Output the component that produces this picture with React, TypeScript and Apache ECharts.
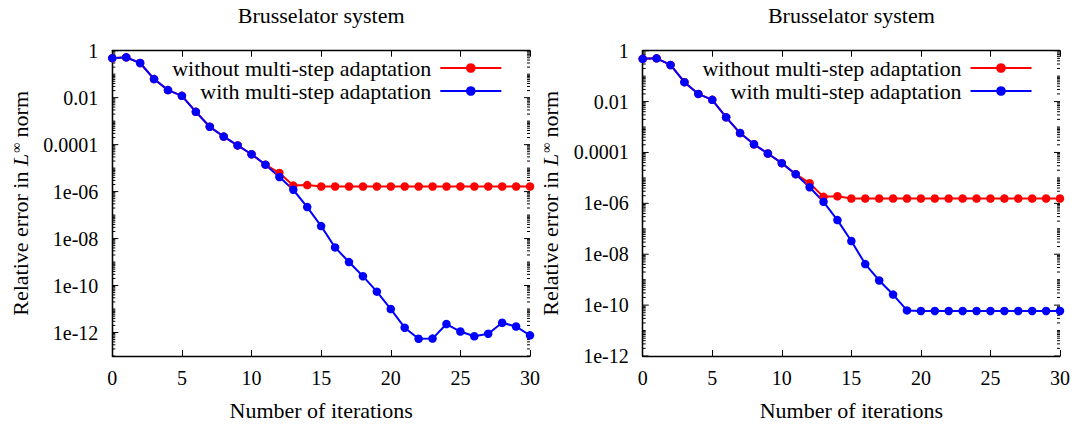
import React, { useEffect, useRef } from "react";
import * as echarts from "echarts";

const iterations = [0, 1, 2, 3, 4, 5, 6, 7, 8, 9, 10, 11, 12, 13, 14, 15, 16, 17, 18, 19, 20, 21, 22, 23, 24, 25, 26, 27, 28, 29, 30];

const leftWithout = [0.48, 0.52, 0.3, 0.062, 0.021, 0.012, 0.0025, 5.8e-4, 2.2e-4, 9.3e-5, 3.9e-5, 1.4e-5, 6.2e-6, 1.8e-6, 1.9e-6,
  1.65e-6, 1.65e-6, 1.65e-6, 1.65e-6, 1.65e-6, 1.65e-6, 1.65e-6, 1.65e-6, 1.65e-6, 1.65e-6, 1.65e-6, 1.65e-6, 1.65e-6, 1.65e-6, 1.65e-6, 1.65e-6];
const leftWith = [0.48, 0.52, 0.3, 0.062, 0.021, 0.012, 0.0025, 5.8e-4, 2.2e-4, 9.3e-5, 3.9e-5, 1.4e-5, 4.2e-6, 1.2e-6, 2.2e-7,
  3.4e-8, 4.2e-9, 1.0e-9, 2.5e-10, 5.5e-11, 1.0e-11, 1.6e-12, 5.4e-13, 5.5e-13, 2.3e-12, 1.1e-12, 6.9e-13, 8.9e-13, 2.6e-12, 1.8e-12, 7.6e-13];

const rightWithout = [0.48, 0.5, 0.275, 0.058, 0.02, 0.0117, 0.0024, 5.8e-4, 2.1e-4, 9.1e-5, 3.8e-5, 1.4e-5, 6.2e-6, 1.8e-6, 1.9e-6,
  1.55e-6, 1.55e-6, 1.55e-6, 1.55e-6, 1.55e-6, 1.55e-6, 1.55e-6, 1.55e-6, 1.55e-6, 1.55e-6, 1.55e-6, 1.55e-6, 1.55e-6, 1.55e-6, 1.55e-6, 1.55e-6];
const rightWith = [0.48, 0.5, 0.275, 0.058, 0.02, 0.0117, 0.0024, 5.8e-4, 2.1e-4, 9.1e-5, 3.8e-5, 1.4e-5, 4.3e-6, 1.15e-6, 2.2e-7,
  3.3e-8, 4.1e-9, 9.3e-10, 2.6e-10, 6.2e-11, 5.9e-11, 5.9e-11, 5.9e-11, 5.9e-11, 5.9e-11, 5.9e-11, 5.9e-11, 5.9e-11, 5.9e-11, 5.9e-11, 5.9e-11];

const seriesNames = ["without multi-step adaptation", "with multi-step adaptation"];
const titleText = "Brusselator system";
const xAxisName = "Number of iterations";
const yTickLabels: Record<string, string> = {
  "0": "1", "-2": "0.01", "-4": "0.0001", "-6": "1e-06", "-8": "1e-08", "-10": "1e-10", "-12": "1e-12",
};

const FONT = "Liberation Serif, DejaVu Serif, serif";
const TEXT_SIZE = 22;
const LEGEND_SIZE = 22;
const NUM_SIZE = 20;

function logTicks(minExp: number, maxExp: number) {
  const out: number[][] = [];
  for (let e = minExp; e <= maxExp; e++) {
    for (let m = 1; m <= 9; m++) {
      if (e === maxExp && m > 1) break;
      const v = m * Math.pow(10, e);
      const major = m === 1 && e % 2 === 0 ? 1 : 0;
      out.push([0, v, major]);
    }
  }
  return out;
}

export default function App() {
  const ref = useRef<HTMLDivElement>(null);
  useEffect(() => {
    if (!ref.current) return;
    const chart = echarts.init(ref.current, undefined, { renderer: "svg" });

    const grids = [
      { left: 112.3, top: 50.7, width: 417.7, height: 307 },
      { left: 642.7, top: 50.7, width: 417.3, height: 307 },
    ];
    const yMins = [1e-13, 1e-12];
    const yMinExp = [-13, -12];

    const xAxes: any[] = [];
    const yAxes: any[] = [];
    grids.forEach((g, i) => {
      xAxes.push({
        type: "value", gridIndex: i, min: 0, max: 30, interval: 5, position: "bottom",
        axisLine: { show: true, lineStyle: { color: "#000", width: 1.3 } },
        axisTick: { show: true, inside: true, length: 6, lineStyle: { color: "#000", width: 1 } },
        axisLabel: { margin: 12, color: "#000", fontSize: NUM_SIZE, fontFamily: FONT },
        splitLine: { show: false },
        name: xAxisName, nameLocation: "middle", nameGap: 43,
        nameTextStyle: { color: "#000", fontSize: TEXT_SIZE, fontFamily: FONT },
      });
      xAxes.push({
        type: "value", gridIndex: i, min: 0, max: 30, interval: 5, position: "top",
        axisLine: { show: true, lineStyle: { color: "#000", width: 1.3 } },
        axisTick: { show: true, inside: true, length: 6, lineStyle: { color: "#000", width: 1 } },
        axisLabel: { show: false },
        splitLine: { show: false },
      });
      yAxes.push({
        type: "log", logBase: 10, gridIndex: i, min: yMins[i], max: 1, interval: 1, position: "left",
        axisLine: { show: true, lineStyle: { color: "#000", width: 1.3 } },
        axisTick: { show: false },
        splitLine: { show: false },
        axisLabel: {
          margin: 14, color: "#000", fontSize: NUM_SIZE, fontFamily: FONT,
          formatter: (v: number) => {
            const e = Math.round(Math.log10(v));
            return yTickLabels[String(e)] ?? "";
          },
        },
        name: "Relative error in {it|L}{sup|∞} norm",
        nameLocation: "middle", nameGap: 81, nameRotate: 90,
        nameTextStyle: {
          color: "#000", fontSize: TEXT_SIZE, fontFamily: FONT,
          rich: {
            it: { fontStyle: "italic", fontSize: TEXT_SIZE, fontFamily: FONT, color: "#000" },
            sup: { fontSize: 14, fontFamily: FONT, color: "#000", verticalAlign: "top", padding: [0, 0, 0, 1] },
          },
        },
      });
      yAxes.push({
        type: "log", logBase: 10, gridIndex: i, min: yMins[i], max: 1, position: "right",
        axisLine: { show: true, lineStyle: { color: "#000", width: 1.3 } },
        axisTick: { show: false }, axisLabel: { show: false }, splitLine: { show: false },
      });
    });

    const lineSeries = (name: string, data: number[], color: string, gi: number) => ({
      type: "line", name, xAxisIndex: gi * 2, yAxisIndex: gi * 2,
      data: iterations.map((x, k) => [x, data[k]]),
      symbol: "circle", symbolSize: 8.5,
      lineStyle: { color, width: 2 }, itemStyle: { color },
      z: 3,
    });

    const tickSeries = (gi: number) => ({
      type: "custom", xAxisIndex: gi * 2, yAxisIndex: gi * 2, silent: true, z: 1,
      encode: { x: 0, y: 1 },
      data: logTicks(yMinExp[gi], 0),
      renderItem: (_p: any, api: any) => {
        const v = api.value(1);
        const major = api.value(2);
        const a = api.coord([0, v]);
        const b = api.coord([30, v]);
        const len = major ? 6 : 3;
        return {
          type: "group",
          children: [
            { type: "line", shape: { x1: a[0], y1: a[1], x2: a[0] + len, y2: a[1] }, style: { stroke: "#000", lineWidth: 1 } },
            { type: "line", shape: { x1: b[0], y1: b[1], x2: b[0] - len, y2: b[1] }, style: { stroke: "#000", lineWidth: 1 } },
          ],
        };
      },
    });

    chart.setOption({
      animation: false,
      backgroundColor: "#fff",
      textStyle: { fontFamily: FONT },
      title: grids.map((g) => ({
        text: titleText, left: g.left + g.width / 2, top: 4, textAlign: "center", padding: 0,
        textStyle: { color: "#000", fontSize: TEXT_SIZE, fontWeight: "normal", fontFamily: FONT },
      })),
      grid: grids.map((g) => ({ ...g, containLabel: false, show: false })),
      xAxis: xAxes,
      yAxis: yAxes,
      legend: [
        { right: 1075 - 502.3, top: 57 },
        { right: 1075 - 1032.5, top: 57 },
      ].map((p) => ({
        ...p, orient: "vertical", align: "right", padding: 0, itemGap: 1,
        itemWidth: 61, itemHeight: 12, data: seriesNames, selectedMode: false,
        textStyle: { color: "#000", fontSize: LEGEND_SIZE, fontFamily: FONT, lineHeight: 22, padding: [0, 4, 0, 0] },
      })),
      series: [
        tickSeries(0),
        tickSeries(1),
        lineSeries(seriesNames[0], leftWithout, "#ff0000", 0),
        lineSeries(seriesNames[1], leftWith, "#0000ff", 0),
        lineSeries(seriesNames[0], rightWithout, "#ff0000", 1),
        lineSeries(seriesNames[1], rightWith, "#0000ff", 1),
      ],
    });
    return () => chart.dispose();
  }, []);

  return (
    <div
      ref={ref}
      style={{ position: "fixed", left: 0, top: 0, width: 1075, height: 426, background: "#fff" }}
    />
  );
}
